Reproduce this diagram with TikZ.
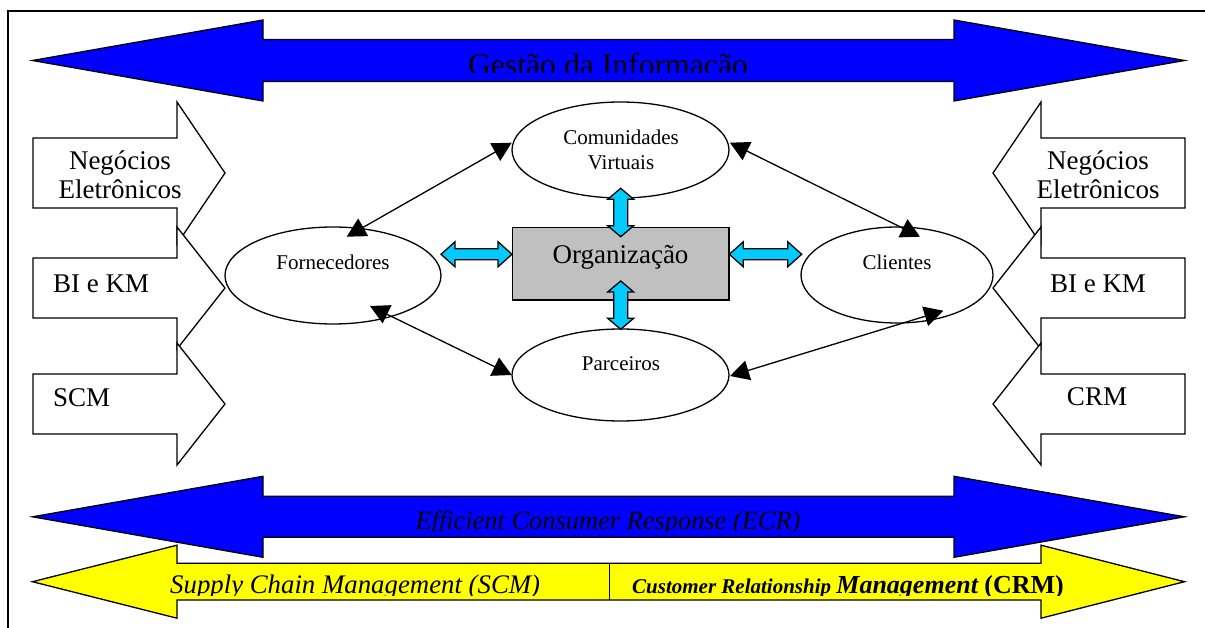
\documentclass[tikz,border=0pt]{standalone}
\usepackage{fontspec}
\setmainfont{Liberation Serif}
\usetikzlibrary{arrows.meta,calc,shapes.geometric}
\definecolor{infoblue}{RGB}{0,0,255}
\definecolor{bandyellow}{RGB}{255,255,0}
\definecolor{linkcyan}{RGB}{0,204,255}
\definecolor{orggray}{RGB}{192,192,192}
\begin{document}
\begin{tikzpicture}[x=1pt,y=-1pt,
  outline/.style={draw=black,line width=1.3pt,line join=miter},
  bluebar/.style={outline,fill=infoblue},
  yellowbar/.style={outline,fill=bandyellow},
  sidearrow/.style={outline,fill=white},
  fatlink/.style={outline,fill=linkcyan},
  party/.style={ellipse,draw=black,line width=1.3pt,inner sep=0pt},
  txt/.style={inner sep=0pt,anchor=base},
  sidetxt/.style={txt,font=\fontsize{27}{31}\selectfont},
  partytxt/.style={txt,font=\fontsize{21}{24}\selectfont},
  link/.style={line width=1.3pt,{Triangle[length=19pt,width=20pt]}-{Triangle[length=19pt,width=20pt]}}]
\useasboundingbox (0,0) rectangle (1205,628);

% page frame
\draw[line width=1.5pt] (8,628) -- (8,11) -- (1205,11);

% information management band
\draw[bluebar] (32.5,60.5) -- (263,20) -- (263,39.5) -- (954,39.5) -- (954,20)
  -- (1184.5,60.5) -- (954,101) -- (954,81.5) -- (263,81.5) -- (263,101) -- cycle;
\begin{scope}
  \clip (263,39.5) rectangle (954,72.5);
  \node[txt,font=\fontsize{31.7}{36}\selectfont] (gestao) at (608,76) {Gestão da Informação};
\end{scope}

% left-hand blocks
\draw[sidearrow] (33,138) -- (177,138) -- (177,102) -- (225,173) -- (177,244) -- (177,208) -- (33,208) -- cycle;
\draw[sidearrow] (33,258) -- (177,258) -- (177,227) -- (225,288) -- (177,349) -- (177,318) -- (33,318) -- cycle;
\draw[sidearrow] (33,374) -- (177,374) -- (177,343) -- (225,404) -- (177,465) -- (177,434) -- (33,434) -- cycle;
\node[sidetxt] (lneg) at (120,170) {Negócios};
\node[sidetxt] (lele) at (120,199) {Eletrônicos};
\node[sidetxt,anchor=base west] (lbi) at (53,293) {BI e KM};
\node[sidetxt,anchor=base west] (lscm) at (53,406) {SCM};

% right-hand blocks
\draw[sidearrow] (1185,138) -- (1041,138) -- (1041,102) -- (993,173) -- (1041,244) -- (1041,208) -- (1185,208) -- cycle;
\draw[sidearrow] (1185,258) -- (1041,258) -- (1041,227) -- (993,288) -- (1041,349) -- (1041,318) -- (1185,318) -- cycle;
\draw[sidearrow] (1185,374) -- (1041,374) -- (1041,343) -- (993,404) -- (1041,465) -- (1041,434) -- (1185,434) -- cycle;
\node[sidetxt] (rneg) at (1098,170) {Negócios};
\node[sidetxt] (rele) at (1098,199) {Eletrônicos};
\node[sidetxt] (rbi) at (1098,293) {BI e KM};
\node[sidetxt] (rcrm) at (1097,405) {CRM};

% partners around the organisation
\node[party,minimum width=216pt,minimum height=97pt] (forn) at (333,275.5) {};
\node[party,minimum width=217pt,minimum height=96pt] (comu) at (620.5,150) {};
\node[party,minimum width=217pt,minimum height=92pt] (parc) at (620.5,375) {};
\node[party,minimum width=192pt,minimum height=96pt] (cli) at (897,275) {};
\node[draw=black,line width=1.3pt,fill=orggray,inner sep=0pt,minimum width=216.3pt,minimum height=72.7pt] (org) at (620.8,263.6) {};

\node[partytxt] (fornT) at (333,270) {Fornecedores};
\node[partytxt] (comuT) at (621,145) {Comunidades};
\node[partytxt] (comuT2) at (621,169.5) {Virtuais};
\node[partytxt] (parcT) at (621,370.5) {Parceiros};
\node[partytxt] (cliT) at (897,270) {Clientes};
\node[txt,font=\fontsize{27}{31}\selectfont] (orgT) at (620.5,264) {Organização};

% two-way links of the organisation
\draw[fatlink] (441,254.3) -- (455,241.8) -- (455,248.8) -- (498,248.8) -- (498,241.8) -- (512,254.3)
  -- (498,266.8) -- (498,259.8) -- (455,259.8) -- (455,266.8) -- cycle;
\draw[fatlink] (729.3,254.3) -- (743.3,241.8) -- (743.3,248.8) -- (787.7,248.8) -- (787.7,241.8) -- (801.7,254.3)
  -- (787.7,266.8) -- (787.7,259.8) -- (743.3,259.8) -- (743.3,266.8) -- cycle;
\draw[fatlink] (620.7,188.3) -- (633.7,199.3) -- (627.7,199.3) -- (627.7,225.7) -- (633.7,225.7) -- (620.7,236.7)
  -- (607.7,225.7) -- (613.7,225.7) -- (613.7,199.3) -- (607.7,199.3) -- cycle;
\draw[fatlink] (620.7,281) -- (633.7,292) -- (627.7,292) -- (627.7,318.3) -- (633.7,318.3) -- (620.7,329.3)
  -- (607.7,318.3) -- (613.7,318.3) -- (613.7,292) -- (607.7,292) -- cycle;

% links between the partners
\draw[link] ($(forn.center)+(13.7,-38.8)$) -- ($(comu.center)+(-108.8,-7.3)$);
\draw[link] ($(comu.center)+(109.5,-7.3)$) -- ($(cli.center)+(23,-38.3)$);
\draw[link] ($(forn.center)+(37,30.5)$) -- ($(parc.center)+(-108.8,0)$);
\draw[link] ($(parc.center)+(109.5,1)$) -- ($(cli.center)+(46.3,35.7)$);

% ECR band
\draw[bluebar] (32.5,516.8) -- (263,476.3) -- (263,496.3) -- (954,496.3) -- (954,476.3)
  -- (1184.5,516.8) -- (954,557.3) -- (954,537.3) -- (263,537.3) -- (263,557.3) -- cycle;
\begin{scope}
  \clip (263,496.3) rectangle (954,531);
  \node[txt,font=\fontsize{26.4}{30}\selectfont\itshape] (ecr) at (608,529) {Efficient Consumer Response (ECR)};
\end{scope}

% SCM / CRM band
\draw[yellowbar] (32.5,581.7) -- (177,545.2) -- (177,563.3) -- (1041,563.3) -- (1041,545.2)
  -- (1184.5,581.7) -- (1041,618.2) -- (1041,600) -- (177,600) -- (177,618.2) -- cycle;
\draw[line width=1.3pt] (609.3,563.3) -- (609.3,600);
\begin{scope}
  \clip (100,563.3) rectangle (1100,595);
  \node[txt,anchor=base west,font=\fontsize{26.8}{30}\selectfont\itshape] (scm) at (170,593)
    {Supply Chain Management (SCM)};
  \node[txt,anchor=base west,font=\bfseries] (crm) at (632,593)
    {\fontsize{21}{24}\selectfont\itshape Customer Relationship
     \fontsize{26}{30}\selectfont Management \upshape(CRM)};
\end{scope}
\end{tikzpicture}
\end{document}
